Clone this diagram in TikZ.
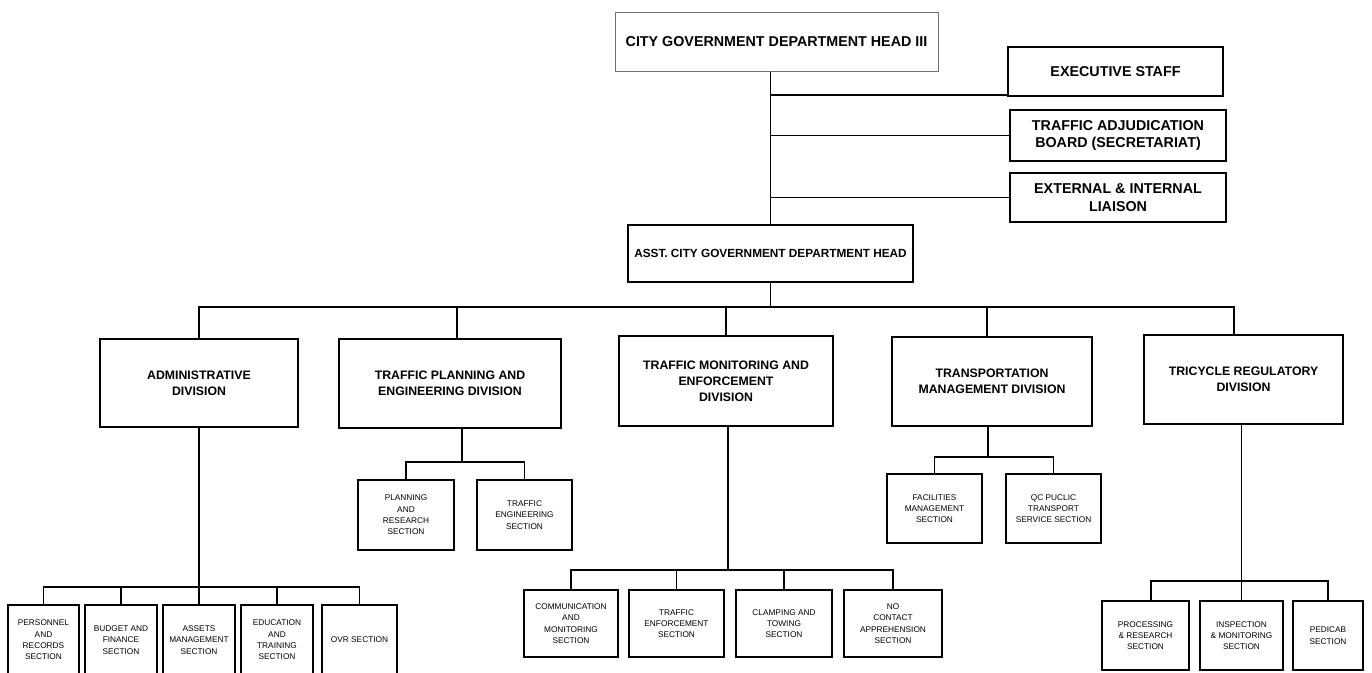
\documentclass[tikz,border=0pt]{standalone}
\usepackage{fontspec}
\setmainfont{Liberation Sans}

\begin{document}
\begin{tikzpicture}[x=1pt,y=-1pt,
    box/.style={draw, line width=1.5pt, align=center, inner sep=1pt},
    headbox/.style={box, font=\fontsize{14.3}{17.5}\selectfont\bfseries},
    divbox/.style={box, font=\fontsize{12.3}{16}\selectfont\bfseries},
    secbox/.style={box, line width=1.3pt, font=\fontsize{8.3}{11.3}\selectfont},
    link/.style={line width=1.5pt}]
  \useasboundingbox (0,0) rectangle (1372,672);
  \clip (0,0) rectangle (1372,672);

  % top of the chart
  \node[headbox, draw=black!55, line width=1pt, minimum width=323pt, minimum height=59pt] (head) at (776.5,41.5) {CITY GOVERNMENT DEPARTMENT HEAD III};
  \node[headbox, minimum width=215pt, minimum height=49pt] (exec) at (1115.5,71.5) {EXECUTIVE STAFF};
  \node[headbox, minimum width=216pt, minimum height=51pt] (adjud) at (1118,135.5) {TRAFFIC ADJUDICATION\\BOARD (SECRETARIAT)};
  \node[headbox, minimum width=216pt, minimum height=49pt] (liaison) at (1118,197.5) {EXTERNAL \& INTERNAL\\LIAISON};
  \node[box, font=\fontsize{11.8}{14}\selectfont\bfseries, minimum width=285pt, minimum height=57pt] (asst) at (770.5,253.5) {ASST. CITY GOVERNMENT DEPARTMENT HEAD};

  % divisions
  \node[divbox, minimum width=198pt, minimum height=88pt] (admin) at (199,383) {ADMINISTRATIVE\\DIVISION};
  \node[divbox, minimum width=222pt, minimum height=89pt] (plan) at (450,383.5) {TRAFFIC PLANNING AND\\ENGINEERING DIVISION};
  \node[divbox, minimum width=214pt, minimum height=90pt] (monit) at (726,381) {TRAFFIC MONITORING AND\\ENFORCEMENT\\DIVISION};
  \node[divbox, minimum width=200pt, minimum height=89pt] (transp) at (992,381.5) {TRANSPORTATION\\MANAGEMENT DIVISION};
  \node[divbox, minimum width=199pt, minimum height=89pt] (tricyc) at (1243.5,379.5) {TRICYCLE REGULATORY\\DIVISION};

  % sections
  \node[secbox, minimum width=71pt, minimum height=70pt] (pers) at (43.5,640) {PERSONNEL\\AND\\RECORDS\\SECTION};
  \node[secbox, minimum width=72pt, minimum height=70pt] (budget) at (121,640) {BUDGET AND\\FINANCE\\SECTION};
  \node[secbox, minimum width=72pt, minimum height=70pt] (assets) at (199,640) {ASSETS\\MANAGEMENT\\SECTION};
  \node[secbox, minimum width=72pt, minimum height=70pt] (educ) at (277,640) {EDUCATION\\AND\\TRAINING\\SECTION};
  \node[secbox, minimum width=75pt, minimum height=70pt] (ovr) at (359.5,640) {OVR SECTION};

  \node[secbox, minimum width=96pt, minimum height=70pt] (pr) at (406,515) {PLANNING\\AND\\RESEARCH\\SECTION};
  \node[secbox, minimum width=95pt, minimum height=70pt] (te) at (524.5,515) {TRAFFIC\\ENGINEERING\\SECTION};

  \node[secbox, minimum width=94pt, minimum height=67pt] (comm) at (571,623.5) {COMMUNICATION\\AND\\MONITORING\\SECTION};
  \node[secbox, minimum width=95pt, minimum height=67pt] (tenf) at (676.5,623.5) {TRAFFIC\\ENFORCEMENT\\SECTION};
  \node[secbox, minimum width=96pt, minimum height=67pt] (clamp) at (784,623.5) {CLAMPING AND\\TOWING\\SECTION};
  \node[secbox, minimum width=98pt, minimum height=67pt] (nocon) at (893,623.5) {NO\\CONTACT\\APPREHENSION\\SECTION};

  \node[secbox, minimum width=95pt, minimum height=69pt] (fac) at (934.5,508.5) {FACILITIES\\MANAGEMENT\\SECTION};
  \node[secbox, minimum width=95pt, minimum height=69pt] (qc) at (1053.5,508.5) {QC PUCLIC\\TRANSPORT\\SERVICE SECTION};

  \node[secbox, minimum width=87pt, minimum height=69pt] (proc) at (1145.5,635.5) {PROCESSING\\\& RESEARCH\\SECTION};
  \node[secbox, minimum width=83pt, minimum height=69pt] (insp) at (1241.5,635.5) {INSPECTION\\\& MONITORING\\SECTION};
  \node[secbox, minimum width=70pt, minimum height=69pt] (ped) at (1328,635.5) {PEDICAB\\SECTION};

  % head and staff lines
  \draw[link] (head.south -| asst.north) -- (asst.north);
  \draw[link] ([yshift=2pt]exec.south west) -- ([yshift=2pt]exec.south west -| asst.north);
  \draw[link] (adjud.west) -- (adjud.west -| asst.north);
  \draw[link] (liaison.west) -- (liaison.west -| asst.north);

  % division bus
  \coordinate (divbus) at (770.5,307);
  \draw[link] (asst.south) -- (divbus);
  \draw[link] (admin.north) |- (divbus) -| ([xshift=-9.5pt]tricyc.north);
  \draw[link] ([xshift=7pt]plan.north) -- ([xshift=7pt]plan.north |- divbus);
  \draw[link] (monit.north) -- (monit.north |- divbus);
  \draw[link] ([xshift=-5pt]transp.north) -- ([xshift=-5pt]transp.north |- divbus);

  % section buses
  \coordinate (admbus) at (199,587);
  \draw[link] (admin.south) -- (assets.north);
  \draw[link] (pers.north) |- (admbus) -| (ovr.north);
  \foreach \s in {budget,educ}
    \draw[link] (\s.north) -- (\s.north |- admbus);

  \coordinate (planbus) at (462,462);
  \draw[link] (planbus |- plan.south) -- (planbus);
  \draw[link] (pr.north) |- (planbus) -| (te.north);

  \coordinate (monbus) at (728,570);
  \draw[link] (monbus |- monit.south) -- (monbus);
  \draw[link] (comm.north) |- (monbus) -| (nocon.north);
  \foreach \s in {tenf,clamp}
    \draw[link] (\s.north) -- (\s.north |- monbus);

  \coordinate (trbus) at (988,457);
  \draw[link] (trbus |- transp.south) -- (trbus);
  \draw[link] (fac.north) |- (trbus) -| (qc.north);

  \coordinate (tribus) at (1241.5,581);
  \draw[link] (tribus |- tricyc.south) -- (insp.north);
  \draw[link] ([xshift=5.5pt]proc.north) |- (tribus) -| (ped.north);
\end{tikzpicture}
\end{document}
